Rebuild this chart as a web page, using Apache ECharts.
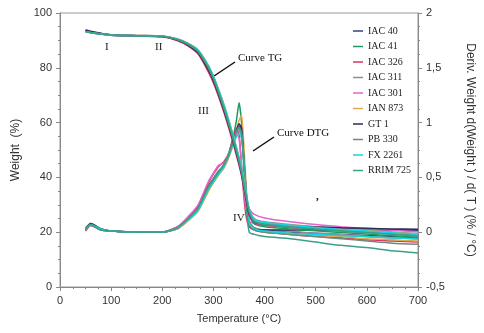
<!DOCTYPE html>
<html>
<head>
<meta charset="utf-8">
<script src="https://cdn.jsdelivr.net/npm/echarts@6/dist/echarts.min.js"></script>
<style>
html, body { margin: 0; padding: 0; background: #fff; }
#chart { width: 484px; height: 333px; }
</style>
</head>
<body>
<div id="chart"></div>
<script>
// temperatures (°C) shared by every curve
var temps = [50, 60, 80, 100, 150, 200, 230, 250, 270, 290, 300, 310, 320, 330, 340, 345, 350, 355, 360, 365, 370, 380, 400, 450, 500, 550, 600, 650, 700];

var names = ['IAC 40', 'IAC 41', 'IAC 326', 'IAC 311', 'IAC 301', 'IAN 873', 'GT 1', 'PB 330', 'FX 2261', 'RRIM 725'];
var colors = ['#34407e', '#1f9a62', '#d8355a', '#8e8e98', '#e266cc', '#e3a84e', '#2c2c58', '#6f8a80', '#14d6df', '#3aa08a'];

// TG curves, weight (%)
var tgIAC40 = [93.8, 93.3, 92.6, 92.1, 91.8, 91.5, 90.2, 88.4, 85.6, 79.5, 75.5, 70.5, 65, 59, 52.5, 49, 45.5, 41.5, 36.5, 31.5, 27, 24, 23.2, 22.4, 21.9, 21.5, 21.2, 20.9, 20.6];
var tgIAC41 = [93.2, 92.9, 92.3, 91.9, 91.6, 91.4, 90.3, 88.7, 86.2, 80.5, 76.5, 71.5, 66, 60, 53.5, 50, 46.5, 42.5, 37, 31.5, 26.5, 23, 22, 21.2, 20.5, 19.9, 19.3, 18.7, 18.1];
var tgIAC326 = [93.3, 92.9, 92.3, 91.9, 91.6, 91.3, 89.9, 88, 85, 78.5, 74.5, 69.5, 64, 58, 51.5, 48, 44.5, 40.5, 35.5, 30.5, 26, 23.5, 22.6, 21.8, 21.2, 20.6, 20.1, 19.6, 19.1];
var tgIAC311 = [93.2, 92.8, 92.3, 91.9, 91.7, 91.5, 90.4, 88.8, 86.3, 80.5, 76.6, 71.8, 66.5, 60.5, 54, 50.5, 47, 43, 38, 33, 28.5, 25, 23.8, 22.8, 22, 21.3, 20.7, 20.1, 19.5];
var tgIAC301 = [93.3, 92.9, 92.4, 92, 91.7, 91.5, 90.2, 88.5, 85.7, 79.8, 75.8, 70.8, 65.3, 59.3, 52.8, 49.2, 45.5, 41.5, 36.5, 32, 28.5, 26.5, 25.2, 23.8, 22.8, 22, 21.3, 20.7, 20.2];
var tgIAN873 = [93.1, 92.8, 92.3, 92, 91.8, 91.6, 90.6, 89, 86.6, 81, 77, 72.3, 67, 61, 54.5, 51, 47.5, 43.5, 38.5, 33, 28, 24.5, 23.4, 22.5, 21.8, 21.1, 20.5, 19.9, 19.3];
var tgGT1 = [93.7, 93.2, 92.5, 92, 91.7, 91.4, 90.1, 88.3, 85.5, 79.3, 75.3, 70.3, 64.8, 58.8, 52.3, 48.8, 45.2, 41.2, 36.2, 31.2, 26.8, 23.8, 23, 22.3, 21.9, 21.6, 21.4, 21.2, 21.1];
var tgPB330 = [93.3, 92.9, 92.4, 92, 91.7, 91.5, 90.3, 88.6, 85.9, 80, 76, 71, 65.5, 59.5, 53, 49.5, 46, 42, 37, 32, 27.5, 24.2, 23.2, 22.2, 21.4, 20.7, 20, 19.3, 18.6];
var tgFX2261 = [93.2, 92.9, 92.3, 91.9, 91.7, 91.5, 90.4, 88.9, 86.4, 80.8, 76.9, 72, 66.8, 60.8, 54.3, 50.8, 47.2, 43.2, 38.2, 33.2, 28.5, 24.6, 23.5, 22.5, 21.7, 21, 20.4, 19.8, 19.2];
var tgRRIM725 = [93.2, 92.8, 92.3, 91.9, 91.7, 91.5, 90.3, 88.7, 86, 80.2, 76.2, 71.2, 65.8, 59.8, 53.3, 49.8, 46.2, 42.2, 37.2, 32.2, 27.5, 23.8, 22.8, 21.8, 21.1, 20.4, 19.8, 19.2, 18.6];

// DTG curves, %/°C (right axis)
var dtgIAC40 = [0.02, 0.07, 0.03, 0.01, 0, 0, 0.04, 0.12, 0.22, 0.42, 0.49, 0.55, 0.61, 0.7, 0.84, 0.91, 0.97, 0.93, 0.62, 0.28, 0.08, 0.04, 0.02, 0, -0.01, -0.02, -0.03, -0.04, -0.05];
var dtgIAC41 = [0.04, 0.08, 0.03, 0.01, 0, 0, 0.03, 0.11, 0.2, 0.38, 0.46, 0.53, 0.6, 0.72, 0.9, 1.02, 1.18, 1.0, 0.6, 0.25, 0.06, 0.03, 0.01, -0.01, -0.02, -0.03, -0.04, -0.05, -0.06];
var dtgIAC326 = [0.01, 0.06, 0.02, 0.01, 0, 0, 0.05, 0.13, 0.24, 0.45, 0.53, 0.6, 0.64, 0.72, 0.88, 0.95, 0.9, 0.6, 0.3, 0.12, 0.05, 0.02, 0, -0.02, -0.04, -0.05, -0.07, -0.08, -0.09];
var dtgIAC311 = [0.02, 0.06, 0.02, 0.01, 0, 0, 0.04, 0.12, 0.21, 0.4, 0.47, 0.54, 0.6, 0.69, 0.82, 0.89, 0.93, 0.88, 0.66, 0.32, 0.1, 0.04, 0.02, 0.01, -0.01, -0.02, -0.04, -0.05, -0.06];
var dtgIAC301 = [0.02, 0.07, 0.03, 0.01, 0, 0, 0.05, 0.14, 0.25, 0.46, 0.54, 0.61, 0.63, 0.7, 0.84, 0.9, 0.86, 0.62, 0.34, 0.18, 0.1, 0.08, 0.06, 0.04, 0.02, 0.01, 0, -0.01, -0.02];
var dtgIAN873 = [0.03, 0.07, 0.02, 0.01, 0, 0, 0.03, 0.1, 0.19, 0.37, 0.45, 0.52, 0.58, 0.68, 0.82, 0.93, 1.02, 1.07, 0.75, 0.35, 0.08, 0.03, 0.01, -0.01, -0.03, -0.04, -0.06, -0.07, -0.08];
var dtgGT1 = [0.03, 0.08, 0.03, 0.01, 0, 0, 0.04, 0.12, 0.22, 0.41, 0.48, 0.55, 0.61, 0.7, 0.85, 0.93, 0.99, 0.95, 0.64, 0.3, 0.07, 0.03, 0.02, 0.02, 0.02, 0.02, 0.02, 0.02, 0.02];
var dtgPB330 = [0.02, 0.07, 0.02, 0.01, 0, 0, 0.04, 0.12, 0.22, 0.41, 0.49, 0.56, 0.61, 0.71, 0.85, 0.92, 0.96, 0.9, 0.6, 0.28, 0.07, 0.02, 0, -0.02, -0.04, -0.06, -0.08, -0.1, -0.11];
var dtgFX2261 = [0.03, 0.07, 0.03, 0.01, 0, 0, 0.04, 0.11, 0.2, 0.39, 0.46, 0.53, 0.59, 0.7, 0.82, 0.87, 0.9, 0.86, 0.62, 0.3, 0.08, 0.03, 0.01, -0.01, -0.02, -0.03, -0.04, -0.05, -0.06];
var dtgRRIM725 = [0.02, 0.07, 0.02, 0.01, 0, 0, 0.04, 0.12, 0.22, 0.41, 0.48, 0.55, 0.61, 0.71, 0.85, 0.92, 0.95, 0.9, 0.55, 0.2, 0, -0.02, -0.04, -0.06, -0.09, -0.12, -0.14, -0.17, -0.19];

var tgData = [tgIAC40, tgIAC41, tgIAC326, tgIAC311, tgIAC301, tgIAN873, tgGT1, tgPB330, tgFX2261, tgRRIM725];
var dtgData = [dtgIAC40, dtgIAC41, dtgIAC326, dtgIAC311, dtgIAC301, dtgIAN873, dtgGT1, dtgPB330, dtgFX2261, dtgRRIM725];

function pairs(vals) {
	return temps.map(function(t, i) { return [t, vals[i]]; });
}

var series = [];
names.forEach(function(name, i) {
	series.push({
		name: name, type: 'line', yAxisIndex: 1, symbol: 'none', smooth: 0.2,
		lineStyle: { width: 1.5, color: colors[i] }, itemStyle: { color: colors[i] },
		data: pairs(dtgData[i])
	});
});
names.forEach(function(name, i) {
	series.push({
		name: name, type: 'line', yAxisIndex: 0, symbol: 'none', smooth: 0.3,
		lineStyle: { width: 1.5, color: colors[i] }, itemStyle: { color: colors[i] },
		data: pairs(tgData[i])
	});
});

var axisFont = { fontFamily: 'Liberation Sans, Arial', fontSize: 11, color: '#333' };
var nameFont = { fontFamily: 'Liberation Sans, Arial', fontSize: 12, color: '#333' };
var serif = 'Liberation Serif, Times New Roman, serif';

var chart = echarts.init(document.getElementById('chart'));
chart.setOption({
	animation: false,
	grid: { left: 60, right: 66, top: 13, bottom: 46, show: true, borderColor: '#999', borderWidth: 1 },
	legend: {
		orient: 'vertical', left: 348, top: 21, icon: 'rect', itemWidth: 10, itemHeight: 1.5, itemGap: 5.5,
		textStyle: { fontFamily: serif, fontSize: 10, lineHeight: 10, color: '#222' },
		data: names
	},
	xAxis: {
		type: 'value', min: 0, max: 700, interval: 100,
		name: 'Temperature (°C)', nameLocation: 'middle', nameGap: 26,
		nameTextStyle: axisFont,
		axisLine: { lineStyle: { color: '#888' } },
		axisTick: { lineStyle: { color: '#888' }, length: 4 },
		minorTick: { show: true, splitNumber: 4, length: 2, lineStyle: { color: '#888' } },
		axisLabel: axisFont,
		splitLine: { show: false }
	},
	yAxis: [{
		type: 'value', min: 0, max: 100, interval: 20,
		name: 'Weight  (%)', nameLocation: 'middle', nameGap: 38,
		nameTextStyle: nameFont,
		axisLine: { show: true, lineStyle: { color: '#888' } },
		axisTick: { show: true, lineStyle: { color: '#888' }, length: 4 },
		minorTick: { show: true, splitNumber: 4, length: 2, lineStyle: { color: '#888' } },
		axisLabel: axisFont,
		splitLine: { show: false }
	}, {
		type: 'value', min: -0.5, max: 2, interval: 0.5, position: 'right',
		name: 'Deriv. Weight d(Weight ) / d( T ) (% / °C)', nameLocation: 'middle', nameGap: 46, nameRotate: -90,
		nameTextStyle: nameFont,
		axisLine: { show: true, lineStyle: { color: '#888' } },
		axisTick: { show: true, lineStyle: { color: '#888' }, length: 4 },
		minorTick: { show: true, splitNumber: 4, length: 2, lineStyle: { color: '#888' } },
		axisLabel: Object.assign({}, axisFont, {
			formatter: function(v) { return String(v).replace('.', ','); }
		}),
		splitLine: { show: false }
	}],
	graphic: [
		{ type: 'text', left: 105, top: 42, style: { text: 'I', font: '11px ' + serif, fill: '#222' } },
		{ type: 'text', left: 155, top: 42, style: { text: 'II', font: '11px ' + serif, fill: '#222' } },
		{ type: 'text', left: 198, top: 106, style: { text: 'III', font: '11px ' + serif, fill: '#222' } },
		{ type: 'text', left: 233, top: 213, style: { text: 'IV', font: '11px ' + serif, fill: '#222' } },
		{ type: 'text', left: 238, top: 53, style: { text: 'Curve TG', font: '11px ' + serif, fill: '#111' } },
		{ type: 'text', left: 277, top: 128, style: { text: 'Curve DTG', font: '11px ' + serif, fill: '#111' } },
		{ type: 'text', left: 316, top: 192, style: { text: ',', font: 'bold 11px ' + serif, fill: '#111' } },
		{ type: 'line', shape: { x1: 214, y1: 76, x2: 235, y2: 62 }, style: { stroke: '#111', lineWidth: 1.5 } },
		{ type: 'line', shape: { x1: 253, y1: 151, x2: 274, y2: 137 }, style: { stroke: '#111', lineWidth: 1.5 } }
	],
	series: series
});
</script>
</body>
</html>
